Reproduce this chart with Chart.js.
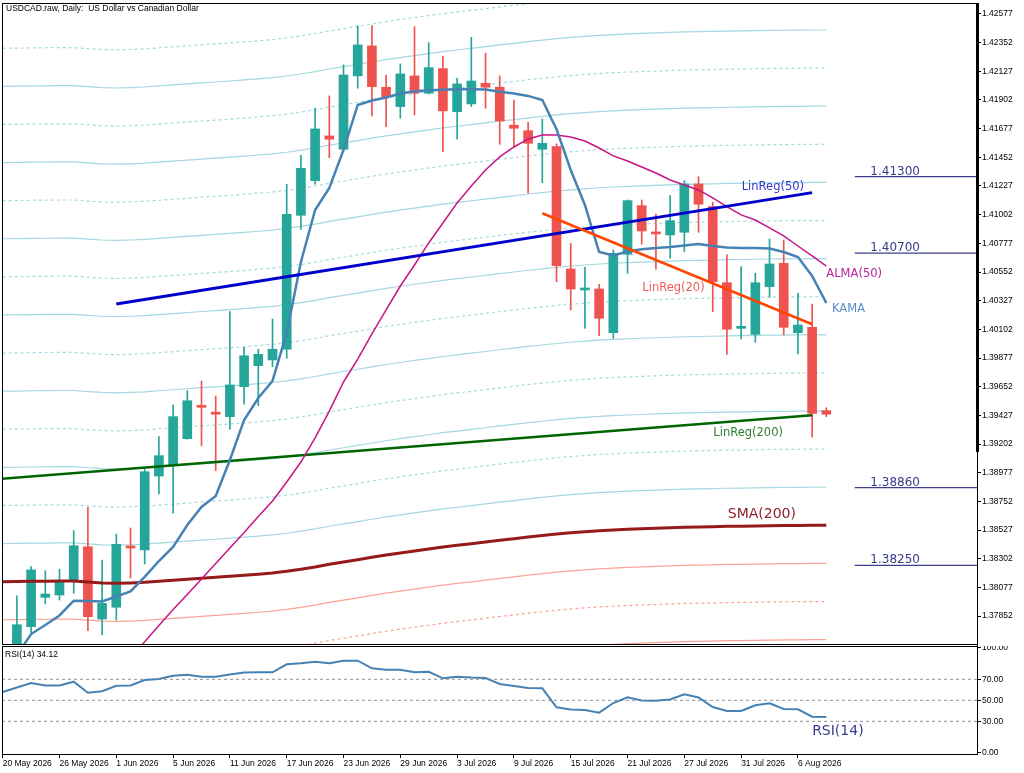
<!DOCTYPE html>
<html>
<head>
<meta charset="utf-8">
<script src="https://cdn.jsdelivr.net/npm/chart.js@4.4.1/dist/chart.umd.min.js"></script>
<style>
  html, body { margin: 0; padding: 0; background: #fff; }
  #wrap { position: relative; width: 1024px; height: 773px; overflow: hidden; }
  canvas { position: absolute; left: 0; }
  #main { top: 0; width: 1024px; height: 646px; }
  #rsi { top: 646px; width: 1024px; height: 127px; }
</style>
</head>
<body>
<div id="wrap">
  <canvas id="main" width="1024" height="646"></canvas>
  <canvas id="rsi" width="1024" height="127"></canvas>
</div>
<script>
// ---- data ----
const title = 'USDCAD.raw, Daily:  US Dollar vs Canadian Dollar';
const dateTicks = ['20 May 2026', '26 May 2026', '1 Jun 2026', '5 Jun 2026', '11 Jun 2026', '17 Jun 2026',
  '23 Jun 2026', '29 Jun 2026', '3 Jul 2026', '9 Jul 2026', '15 Jul 2026', '21 Jul 2026', '27 Jul 2026',
  '31 Jul 2026', '6 Aug 2026'];
const dateTickEvery = 4; // bars between two date labels

const priceTicks = [1.37852, 1.38077, 1.38302, 1.38527, 1.38752, 1.38977, 1.39202, 1.39427, 1.39652, 1.39877,
  1.40102, 1.40327, 1.40552, 1.40777, 1.41002, 1.41227, 1.41452, 1.41677, 1.41902, 1.42127, 1.42352, 1.42577];
const rsiTicks = [0, 30, 50, 70, 100];
const rsiLevels = [30, 50, 70];
const priceLevels = [1.41300, 1.40700, 1.38860, 1.38250];

const open = [1.37600, 1.37586, 1.37769, 1.37999, 1.38017, 1.38122, 1.38396, 1.37829, 1.37921, 1.38402,
  1.38371, 1.38951, 1.39038, 1.39244, 1.39501, 1.39448, 1.39417, 1.39652, 1.39817, 1.39862,
  1.39946, 1.40997, 1.41269, 1.41620, 1.41515, 1.42091, 1.42326, 1.42002, 1.41850, 1.42091,
  1.41955, 1.42148, 1.41810, 1.41871, 1.42033, 1.42002, 1.41704, 1.41661, 1.41515, 1.41536,
  1.40576, 1.40411, 1.40419, 1.40076, 1.40691, 1.41073, 1.40864, 1.40843, 1.40864, 1.41243,
  1.41065, 1.40468, 1.40110, 1.40063, 1.40437, 1.40620, 1.40076, 1.40118, 1.39464];
const high = [1.37615, 1.38010, 1.38240, 1.38208, 1.38219, 1.38522, 1.38706, 1.38292, 1.38496, 1.38543,
  1.39004, 1.39260, 1.39509, 1.39621, 1.39697, 1.39579, 1.40241, 1.39961, 1.39946, 1.40183,
  1.41241, 1.41468, 1.41837, 1.41934, 1.42177, 1.42483, 1.42485, 1.42098, 1.42185, 1.42477,
  1.42352, 1.42247, 1.42072, 1.42394, 1.42269, 1.42091, 1.41902, 1.41727, 1.41753, 1.41557,
  1.40777, 1.40589, 1.40456, 1.40725, 1.41117, 1.41117, 1.41007, 1.41151, 1.41269, 1.41300,
  1.41099, 1.40686, 1.40594, 1.40542, 1.40811, 1.40803, 1.40385, 1.40301, 1.39487];
const low = [1.37560, 1.37547, 1.37719, 1.37947, 1.37978, 1.38031, 1.37737, 1.37704, 1.37821, 1.38151,
  1.38261, 1.38810, 1.38659, 1.39240, 1.39187, 1.38993, 1.39318, 1.39514, 1.39503, 1.39809,
  1.39875, 1.40887, 1.41241, 1.41449, 1.41510, 1.41994, 1.41777, 1.41693, 1.41759, 1.41784,
  1.41949, 1.41496, 1.41594, 1.41850, 1.41837, 1.41554, 1.41536, 1.41170, 1.41253, 1.40476,
  1.40254, 1.40110, 1.40052, 1.40032, 1.40542, 1.40770, 1.40574, 1.40660, 1.40712, 1.40864,
  1.40241, 1.39906, 1.40027, 1.40000, 1.40354, 1.40058, 1.39909, 1.39255, 1.39417];
const close = [1.37580, 1.37784, 1.38214, 1.38025, 1.38119, 1.38404, 1.37847, 1.37952, 1.38415, 1.38386,
  1.38985, 1.39111, 1.39417, 1.39542, 1.39490, 1.39436, 1.39666, 1.39895, 1.39906, 1.39946,
  1.41005, 1.41366, 1.41675, 1.41594, 1.42098, 1.42334, 1.42006, 1.41928, 1.42106, 1.41955,
  1.42156, 1.41816, 1.42028, 1.42051, 1.42002, 1.41737, 1.41680, 1.41562, 1.41562, 1.40602,
  1.40419, 1.40424, 1.40189, 1.40699, 1.41112, 1.40874, 1.40851, 1.40955, 1.41243, 1.41084,
  1.40476, 1.40103, 1.40123, 1.40468, 1.40615, 1.40118, 1.40136, 1.39443, 1.39436];

const sma200 = [1.38122, 1.38123, 1.38125, 1.38126, 1.38127, 1.38127, 1.38119, 1.38112, 1.38109, 1.38112,
  1.38117, 1.38125, 1.38133, 1.38141, 1.38149, 1.38156, 1.38164, 1.38172, 1.38181, 1.38190,
  1.38203, 1.38219, 1.38237, 1.38258, 1.38276, 1.38294, 1.38313, 1.38331, 1.38347, 1.38363,
  1.38378, 1.38394, 1.38407, 1.38420, 1.38433, 1.38447, 1.38459, 1.38473, 1.38484, 1.38496,
  1.38506, 1.38514, 1.38522, 1.38528, 1.38533, 1.38537, 1.38541, 1.38545, 1.38549, 1.38551,
  1.38553, 1.38556, 1.38557, 1.38559, 1.38561, 1.38562, 1.38563, 1.38564, 1.38564];
const alma50 = [null, null, null, null, null, null, null, null, null,
  1.37531, 1.37651, 1.37778, 1.37904, 1.38021, 1.38143, 1.38265, 1.38386, 1.38508, 1.38634,
  1.38755, 1.38904, 1.39061, 1.39250, 1.39461, 1.39689, 1.39869, 1.40066, 1.40254, 1.40442,
  1.40607, 1.40780, 1.40937, 1.41094, 1.41227, 1.41353, 1.41455, 1.41533, 1.41596, 1.41627,
  1.41627, 1.41612, 1.41580, 1.41525, 1.41463, 1.41423, 1.41376, 1.41329, 1.41274, 1.41235,
  1.41196, 1.41133, 1.41065, 1.41000, 1.40960, 1.40898, 1.40835, 1.40756, 1.40678, 1.40599];
const kama = [1.37444, 1.37547, 1.37711, 1.37782, 1.37857, 1.37973, 1.37970, 1.37966, 1.38006, 1.38045,
  1.38159, 1.38284, 1.38394, 1.38567, 1.38708, 1.38794, 1.39077, 1.39391, 1.39563, 1.39697,
  1.40074, 1.40631, 1.41039, 1.41212, 1.41510, 1.41863, 1.41898, 1.41922, 1.41953, 1.41970,
  1.41978, 1.41983, 1.41986, 1.41986, 1.41985, 1.41967, 1.41953, 1.41934, 1.41902, 1.41672,
  1.41353, 1.41078, 1.40709, 1.40682, 1.40713, 1.40730, 1.40741, 1.40748, 1.40760, 1.40772,
  1.40756, 1.40745, 1.40741, 1.40741, 1.40737, 1.40709, 1.40670, 1.40521, 1.40309];
const rsi14 = [57.9, 62.2, 66.5, 64.1, 64.1, 67.7, 57.2, 58.6, 63.8, 64.1,
  69.3, 70.3, 73.4, 74.4, 72.5, 72.5, 74.6, 76.5, 76.7, 76.7,
  84.3, 85.2, 86.8, 85.2, 87.7, 87.7, 80.5, 79.1, 79.1, 76.7,
  77.2, 70.9, 72.5, 71.7, 71.2, 65.5, 63.6, 61.7, 61.4, 43.3,
  41.2, 40.8, 38.2, 47.4, 52.9, 49.8, 49.6, 50.8, 55.7, 52.7,
  43.6, 39.8, 39.8, 45.3, 47.1, 41.7, 41.4, 34.4, 34.12];

// regression lines: [bar, price] at both ends
const linReg50 = [[8, 1.40301], [57, 1.41175]];
const linReg20 = [[38, 1.41013], [57, 1.40142]];
const linReg200 = [[-1, 1.38921], [57, 1.39428]];

// offset channels around the SMA(200)
const bandStep = 0.00299;
const bandLevels = [-3, -2, -1, 1, 2, 3, 4, 5, 6, 7, 8, 9, 10, 11, 12, 13, 14];

// ---- view settings ----
const xMin = -0.049, xMax = 68.61;
const priceMin = 1.37625, priceMax = 1.42663;
const rsiMin = -1.14, rsiMax = 101.7;
const levelStart = 60, levelTextAt = 61.1;
const axisMarkLow = 1.3914;
const upColor = '#26a69a', downColor = '#ef5350';

const tags = [
  { text: 'LinReg(50)', x: 52.04, y: 1.41219, color: '#3434c8', size: 11.5 },
  { text: 'LinReg(20)', x: 45.04, y: 1.40424, color: '#ef5a5a', size: 11.5 },
  { text: 'LinReg(200)', x: 50.04, y: 1.39286, color: '#2f7f2f', size: 11.5 },
  { text: 'ALMA(50)', x: 58.0, y: 1.40534, color: '#b5239c', size: 11.5 },
  { text: 'KAMA', x: 58.4, y: 1.40260, color: '#5a8ccc', size: 11.5 },
  { text: 'SMA(200)', x: 51.06, y: 1.38653, color: '#8f1f2f', size: 14 }
];

Chart.defaults.font.family = 'Liberation Sans';
Chart.defaults.animation = false;

const pts = arr => arr.map((v, i) => ({ x: i, y: v })).filter(p => p.y !== null);
const pairPts = arr => arr.map(p => ({ x: p[0], y: p[1] }));
const candleColor = i => close[i] >= open[i] ? upColor : downColor;

function line(data, color, width, order, dash) {
  return {
    type: 'line', data: data, borderColor: color, borderWidth: width,
    pointRadius: 0, tension: 0, fill: false, order: order, borderDash: dash || []
  };
}

const idx = open.map((_, i) => i);
const wicks = idx.map(i => ({ x: i, y: [low[i], high[i]] }));
const bodies = idx.map(i => ({ x: i, y: [Math.min(open[i], close[i]), Math.max(open[i], close[i])] }));

const bandSets = bandLevels.map(k => line(
  sma200.map((v, i) => ({ x: i, y: v + k * bandStep })),
  k > 0 ? 'rgba(160,214,222,0.95)' : 'rgba(248,140,124,0.8)',
  1.2, 10, (k % 2) ? [] : [3, 3]
));

const noPad = ax => { ax.paddingTop = 0; ax.paddingBottom = 0; ax.paddingLeft = 0; ax.paddingRight = 0; };
const smallFont = { family: 'Liberation Sans', size: 8.5 };

const mainDecor = {
  id: 'mainDecor',
  afterDraw(chart) {
    const { ctx, chartArea: a, scales } = chart;
    const xs = scales.x, ys = scales.y;
    ctx.save();
    ctx.strokeStyle = '#000';
    ctx.lineWidth = 1;
    ctx.strokeRect(a.left + 0.5, a.top + 0.5, a.right - a.left, a.bottom - a.top - 1);
    ctx.fillStyle = '#000';
    ctx.fillRect(a.right - 1, a.top, 3, ys.getPixelForValue(axisMarkLow) - a.top);

    ctx.font = '8.5px "Liberation Sans"';
    ctx.textAlign = 'left';
    ctx.textBaseline = 'middle';
    ctx.fillText(title, 6, 9);

    tags.forEach(t => {
      ctx.font = t.size + 'px "DejaVu Sans"';
      ctx.fillStyle = t.color;
      ctx.fillText(t.text, xs.getPixelForValue(t.x), ys.getPixelForValue(t.y));
    });

    ctx.font = '12px "DejaVu Sans"';
    ctx.fillStyle = '#3a3a8a';
    ctx.textBaseline = 'alphabetic';
    priceLevels.forEach(v => {
      ctx.fillText(v.toFixed(5), xs.getPixelForValue(levelTextAt), ys.getPixelForValue(v) - 2);
    });
    ctx.restore();
  }
};

new Chart(document.getElementById('main'), {
  type: 'bar',
  data: {
    datasets: [
      line(pairPts(linReg20), '#ff4500', 2.5, 1),
      line(pairPts(linReg50), '#0000cd', 3, 2),
      line(pts(kama), '#4682b4', 2.5, 3),
      line(pts(alma50), '#c71585', 1.5, 4),
      line(pairPts(linReg200), '#006400', 2.5, 5),
      line(pts(sma200), '#961a1a', 3, 6),
      ...priceLevels.map(v => line([{ x: levelStart, y: v }, { x: xMax, y: v }], '#3f3f8f', 1.3, 7)),
      { type: 'bar', data: bodies, backgroundColor: c => candleColor(c.dataIndex), barThickness: 9,
        minBarLength: 2, grouped: false, order: 8 },
      { type: 'bar', data: wicks, backgroundColor: c => candleColor(c.dataIndex), barThickness: 1,
        grouped: false, order: 9 },
      ...bandSets
    ]
  },
  options: {
    responsive: false,
    events: [],
    layout: { padding: { left: 2, top: 3, right: 0, bottom: 1 } },
    plugins: { legend: { display: false }, tooltip: { enabled: false } },
    scales: {
      x: { type: 'linear', min: xMin, max: xMax, offset: false, display: false },
      y: {
        position: 'right', min: priceMin, max: priceMax,
        afterBuildTicks: ax => { ax.ticks = priceTicks.map(v => ({ value: v })); },
        afterFit: ax => { ax.width = 47; noPad(ax); },
        grid: { drawOnChartArea: false, drawTicks: true, tickLength: 4, tickColor: '#000' },
        border: { display: true, color: '#000', width: 1 },
        ticks: { font: smallFont, color: '#000', padding: 1, callback: v => v.toFixed(5) }
      }
    }
  },
  plugins: [mainDecor]
});

const rsiDecor = {
  id: 'rsiDecor',
  afterDraw(chart) {
    const { ctx, chartArea: a, scales } = chart;
    ctx.save();
    ctx.strokeStyle = '#000';
    ctx.lineWidth = 1;
    ctx.strokeRect(a.left + 0.5, a.top + 0.5, a.right - a.left, a.bottom - a.top);
    ctx.fillStyle = '#000';
    ctx.font = '8.5px "Liberation Sans"';
    ctx.textAlign = 'left';
    ctx.textBaseline = 'middle';
    ctx.fillText('RSI(14) ' + rsi14[rsi14.length - 1].toFixed(2), 5, 9);
    ctx.font = '14px "DejaVu Sans"';
    ctx.fillStyle = '#3a3a90';
    ctx.fillText('RSI(14)', scales.x.getPixelForValue(57), scales.y.getPixelForValue(20.1));
    ctx.restore();
  }
};

new Chart(document.getElementById('rsi'), {
  type: 'line',
  data: {
    datasets: [
      line(pts(rsi14), '#4682b4', 2, 1),
      ...rsiLevels.map(v => line([{ x: xMin, y: v }, { x: xMax, y: v }], '#8f8f8f', 1, 2, [3, 3]))
    ]
  },
  options: {
    responsive: false,
    events: [],
    layout: { padding: { left: 2, top: 0, right: 0, bottom: 0 } },
    plugins: { legend: { display: false }, tooltip: { enabled: false } },
    scales: {
      x: {
        type: 'linear', min: xMin, max: xMax, position: 'bottom',
        afterBuildTicks: ax => { ax.ticks = dateTicks.map((d, k) => ({ value: k * dateTickEvery })); },
        afterFit: ax => { ax.height = 19; noPad(ax); },
        grid: { drawOnChartArea: false, drawTicks: true, tickLength: 4, tickColor: '#000' },
        border: { display: true, color: '#000', width: 1 },
        ticks: { autoSkip: false, maxRotation: 0, align: 'start', padding: 1, font: smallFont, color: '#000',
          callback: v => dateTicks[Math.round(v / dateTickEvery)] }
      },
      y: {
        position: 'right', min: rsiMin, max: rsiMax,
        afterBuildTicks: ax => { ax.ticks = rsiTicks.map(v => ({ value: v })); },
        afterFit: ax => { ax.width = 47; noPad(ax); },
        grid: { drawOnChartArea: false, drawTicks: true, tickLength: 4, tickColor: '#000' },
        border: { display: true, color: '#000', width: 1 },
        ticks: { font: smallFont, color: '#000', padding: 1, callback: v => v.toFixed(2) }
      }
    }
  },
  plugins: [rsiDecor]
});
</script>
</body>
</html>
